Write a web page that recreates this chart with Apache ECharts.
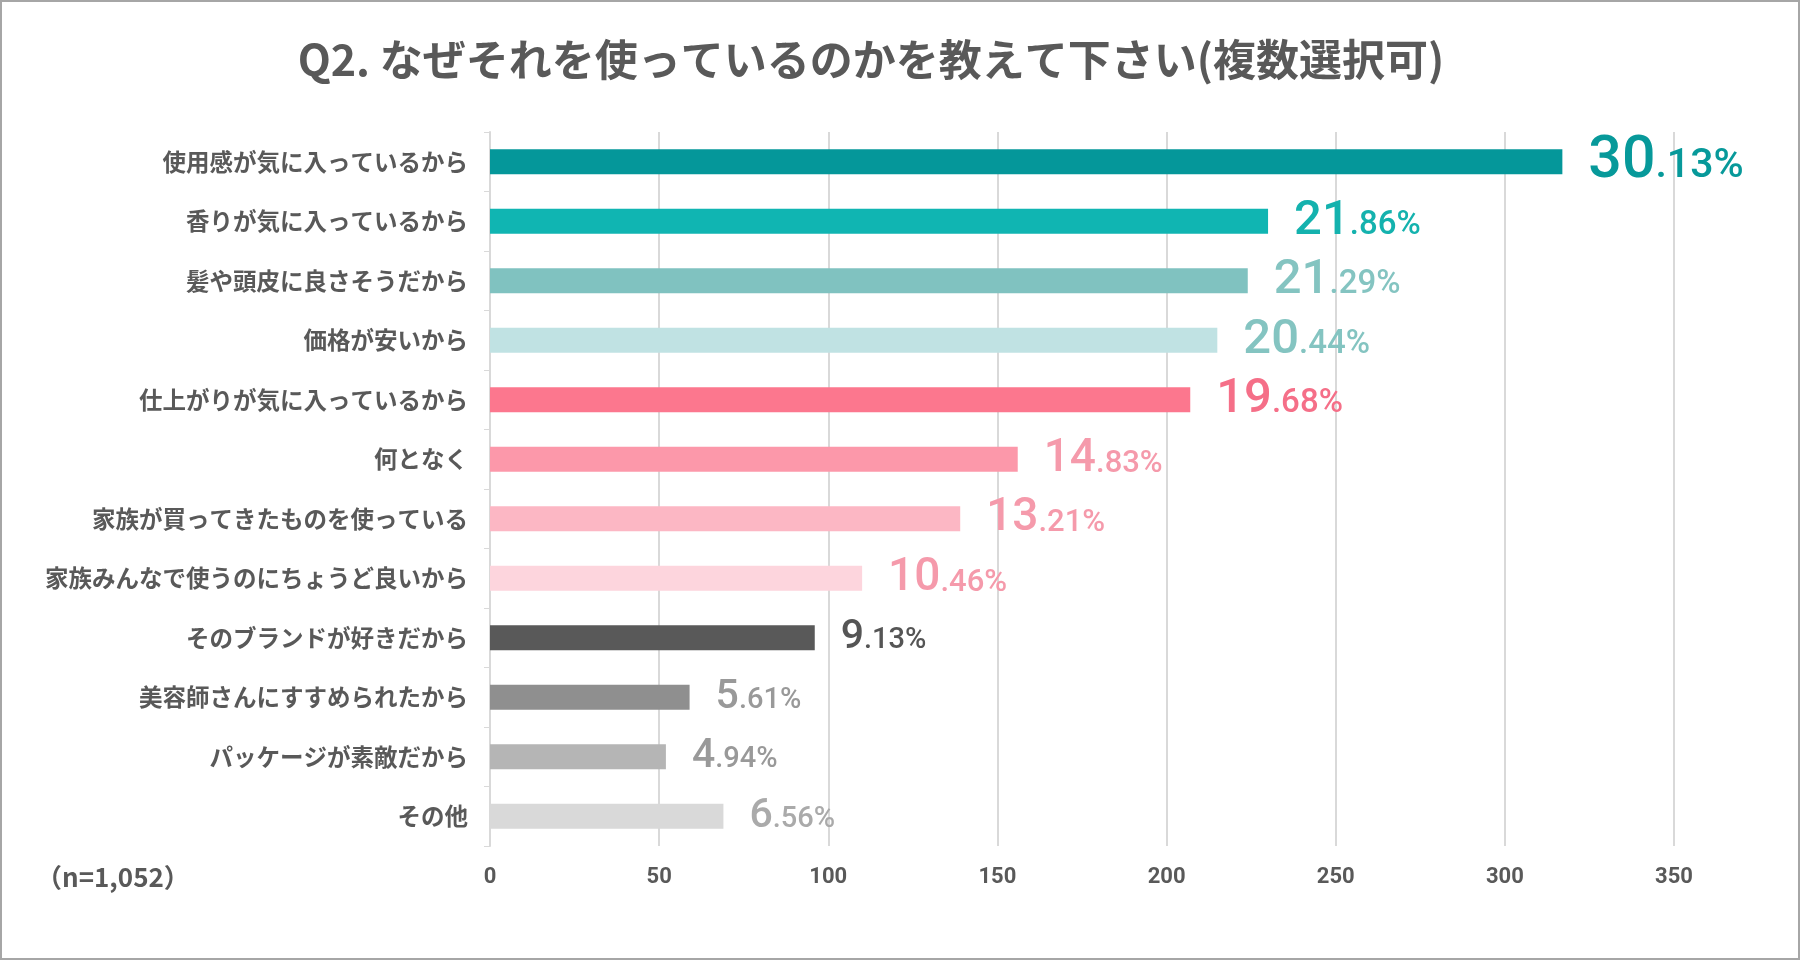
<!DOCTYPE html>
<html>
<head>
<meta charset="utf-8">
<script src="https://cdn.jsdelivr.net/npm/echarts@6/dist/echarts.min.js"></script>
<style>
html,body{margin:0;padding:0;background:#fff;}
#chart{width:1800px;height:960px;}
</style>
</head>
<body>
<div id="chart"></div>
<script>
const titleText = 'Q2. なぜそれを使っているのかを教えて下さい(複数選択可)';
const sampleNote = '（n=1,052）';
const categories = [
  '使用感が気に入っているから',
  '香りが気に入っているから',
  '髪や頭皮に良さそうだから',
  '価格が安いから',
  '仕上がりが気に入っているから',
  '何となく',
  '家族が買ってきたものを使っている',
  '家族みんなで使うのにちょうど良いから',
  'そのブランドが好きだから',
  '美容師さんにすすめられたから',
  'パッケージが素敵だから',
  'その他'
];
const counts = [317, 230, 224, 215, 207, 156, 139, 110, 96, 59, 52, 69];
const percents = ['30.13', '21.86', '21.29', '20.44', '19.68', '14.83', '13.21', '10.46', '9.13', '5.61', '4.94', '6.56'];
const xTickValues = [0, 50, 100, 150, 200, 250, 300, 350];

const barColors = ['#05979a', '#10b5b2', '#80c2c0', '#c0e2e3', '#fc778e', '#fc98aa', '#fcb7c4', '#fdd5dd', '#595959', '#8f8f8f', '#b5b5b5', '#d9d9d9'];
const labelColors = ['#07999a', '#14b2ae', '#84c4c1', '#84c4c1', '#f56f88', '#f59aab', '#f59aab', '#f59aab', '#555555', '#999999', '#999999', '#aaaaaa'];

function tierOf(i) {
  if (i === 0) return { big: 59, small: 41, pad: 4 };
  if (i <= 4) return { big: 49, small: 33, pad: 4 };
  if (i <= 7) return { big: 46, small: 31, pad: 3 };
  return { big: 41, small: 29, pad: 3 };
}

const seriesData = counts.map((v, i) => {
  const t = tierOf(i);
  const parts = percents[i].split('.');
  return {
    value: v,
    itemStyle: { color: barColors[i] },
    label: {
      formatter: '{i|' + parts[0] + '}{d|.' + parts[1] + '%}',
      rich: {
        i: { fontFamily: 'Roboto', fontWeight: 500, fontSize: t.big, lineHeight: t.big, color: labelColors[i], verticalAlign: 'bottom' },
        d: { fontFamily: 'Roboto', fontWeight: 500, fontSize: t.small, lineHeight: t.small, color: labelColors[i], verticalAlign: 'bottom', padding: [0, 0, t.pad, 0] }
      }
    }
  };
});

const chart = echarts.init(document.getElementById('chart'), null, { renderer: 'canvas' });
chart.setOption({
  animation: false,
  backgroundColor: '#ffffff',
  grid: { left: 490, right: 126, top: 132, bottom: 114, containLabel: false },
  xAxis: {
    type: 'value',
    min: xTickValues[0],
    max: xTickValues[xTickValues.length - 1],
    interval: xTickValues[1] - xTickValues[0],
    axisLine: { show: false },
    axisTick: { show: false },
    splitLine: { show: true, lineStyle: { color: '#d9d9d9', width: 2 } },
    axisLabel: { margin: 20, fontFamily: 'Roboto', fontWeight: 'bold', fontSize: 22, color: '#595959' }
  },
  yAxis: {
    type: 'category',
    data: categories,
    inverse: true,
    axisLine: { show: true, lineStyle: { color: '#d9d9d9', width: 2 } },
    axisTick: { show: true, length: 6, lineStyle: { color: '#d9d9d9', width: 1 } },
    axisLabel: { margin: 22, fontFamily: "'Noto Sans CJK JP'", fontWeight: 'bold', fontSize: 23.5, color: '#595959' }
  },
  series: [{
    type: 'bar',
    data: seriesData,
    barWidth: 25,
    label: { show: true, position: 'right', distance: 26 }
  }],
  graphic: [
    { type: 'rect', shape: { x: 1, y: 1, width: 1798, height: 958 }, style: { fill: 'none', stroke: '#a6a6a6', lineWidth: 2 }, silent: true },
    { type: 'text', x: 871, y: 60, style: { text: titleText, textAlign: 'center', textVerticalAlign: 'middle', font: "bold 43px 'Noto Sans CJK JP'", fill: '#595959' } },
    { type: 'text', x: 36, y: 877, style: { text: sampleNote, textAlign: 'left', textVerticalAlign: 'middle', font: "bold 26px 'Noto Sans CJK JP'", fill: '#595959' } }
  ]
});
</script>
</body>
</html>
